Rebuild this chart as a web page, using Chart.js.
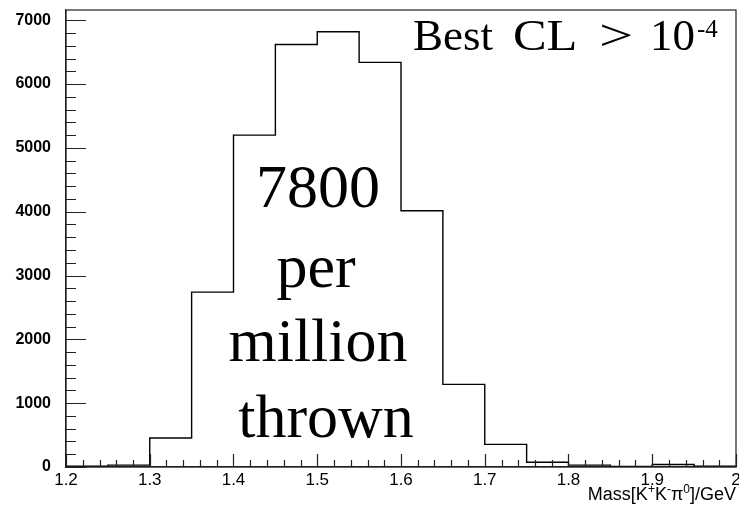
<!DOCTYPE html>
<html>
<head>
<meta charset="utf-8">
<script src="https://cdn.jsdelivr.net/npm/chart.js@4/dist/chart.umd.min.js"></script>
<style>
  html, body { margin: 0; padding: 0; background: #fff; }
  #wrap { width: 739px; height: 509px; }
</style>
</head>
<body>
<div id="wrap"><canvas id="c" width="739" height="509"></canvas></div>
<script>
// Bin lower edges of the K+K-pi0 invariant-mass histogram (GeV), width 0.05
const binEdges = [1.20, 1.25, 1.30, 1.35, 1.40, 1.45, 1.50, 1.55, 1.60, 1.65, 1.70, 1.75, 1.80, 1.85, 1.90, 1.95];
const binWidth = 0.05;
// Entries per bin
const counts = [12, 30, 455, 2740, 5200, 6620, 6820, 6340, 4015, 1295, 355, 75, 30, 10, 40, 12];
// Axis tick values
const yTickValues = [0, 1000, 2000, 3000, 4000, 5000, 6000, 7000];
const xTickValues = [1.2, 1.3, 1.4, 1.5, 1.6, 1.7, 1.8, 1.9, 2.0];
// Annotation text
const cutWords = ["Best", "CL", ">", "10"];
const cutExponent = "-4";
const yieldLines = ["7800", "per", "million", "thrown"];
// x-axis title pieces: [text, isSuperscript]
const xTitleParts = [["Mass[K", false], ["+", true], ["K", false], ["-", true], ["\u03C0", false], ["0", true], ["]/GeV", false]];

const yMax = Math.max(...counts) * 1.05;

// Step outline: one point per bin edge, the last edge repeats the last bin
const stepPoints = binEdges.map((x, i) => ({ x: x, y: counts[i] }));
stepPoints.push({ x: binEdges[binEdges.length - 1] + binWidth, y: counts[counts.length - 1] });

const SERIF = '"Liberation Serif", "Times New Roman", serif';
const SANS = '"Liberation Sans", Arial, sans-serif';

const frameAndTicks = {
  id: 'frameAndTicks',
  afterDatasetsDraw(chart) {
    const { ctx, chartArea: a, scales: { x, y } } = chart;
    ctx.save();
    ctx.strokeStyle = '#222';
    ctx.lineWidth = 1.2;
    ctx.strokeRect(a.left, a.top, a.right - a.left, a.bottom - a.top);
    ctx.beginPath();
    // y ticks: major every 1000, minor every 200
    for (let v = 0; v <= 7000 + 1e-6; v += 200) {
      const py = Math.round(y.getPixelForValue(v)) + 0.5;
      const len = (v % 1000 === 0) ? 20 : 10;
      ctx.moveTo(a.left, py);
      ctx.lineTo(a.left + len, py);
    }
    // x ticks: major every 0.1, minor every 0.02
    for (let k = 0; k <= 40; k++) {
      const v = 1.2 + k * 0.02;
      const px = Math.round(x.getPixelForValue(v)) + 0.5;
      const len = (k % 5 === 0) ? 13 : 7;
      ctx.moveTo(px, a.bottom);
      ctx.lineTo(px, a.bottom - len);
    }
    ctx.stroke();

    ctx.fillStyle = '#000';
    ctx.textBaseline = 'alphabetic';
    ctx.textAlign = 'left';

    // x-axis title, right-aligned to the frame, with superscripts
    const mainFont = '18px ' + SANS, supFont = '12px ' + SANS;
    let total = 0;
    xTitleParts.forEach(([t, sup]) => { ctx.font = sup ? supFont : mainFont; total += ctx.measureText(t).width; });
    let tx = a.right - total;
    xTitleParts.forEach(([t, sup]) => {
      ctx.font = sup ? supFont : mainFont;
      ctx.fillText(t, tx, sup ? 493 : 500);
      tx += ctx.measureText(t).width;
    });

    // selection label with exponent
    ctx.font = '45px ' + SERIF;
    const wordX = [413, 513, 599, 650];
    const wordStretch = [1, 1.12, 1.35, 1];
    cutWords.forEach((t, i) => {
      ctx.save();
      ctx.translate(wordX[i], 50);
      ctx.scale(wordStretch[i], 1);
      ctx.fillText(t, 0, 0);
      ctx.restore();
    });
    ctx.font = '25px ' + SERIF;
    ctx.fillText(cutExponent, 697, 37);

    // yield text block
    ctx.font = '62px ' + SERIF;
    ctx.textAlign = 'center';
    const centers = [318, 316, 318, 326];
    const baselines = [207, 287, 361, 437];
    yieldLines.forEach((t, i) => ctx.fillText(t, centers[i], baselines[i]));
    ctx.restore();
  }
};

new Chart(document.getElementById('c'), {
  type: 'line',
  data: {
    datasets: [{
      data: stepPoints,
      stepped: 'before',
      borderColor: '#000',
      borderWidth: 1.4,
      pointRadius: 0,
      fill: false
    }]
  },
  options: {
    responsive: false,
    animation: false,
    devicePixelRatio: 1,
    layout: { padding: { top: 10, right: 3, left: 0, bottom: 0 } },
    plugins: { legend: { display: false }, tooltip: { enabled: false } },
    scales: {
      x: {
        type: 'linear',
        min: 1.2,
        max: 2.0,
        afterBuildTicks(s) { s.ticks = xTickValues.map(v => ({ value: v })); },
        afterFit(s) { s.height = 42; s.paddingLeft = 0; s.paddingRight = 0; },
        grid: { display: true, drawOnChartArea: false, drawTicks: false, color: '#222' },
        border: { display: true, color: '#222', width: 1.2 },
        ticks: {
          padding: 3,
          color: '#000',
          maxRotation: 0,
          autoSkip: false,
          font: { family: SANS, size: 17 },
          callback: v => String(Number(v.toFixed(2)))
        }
      },
      y: {
        type: 'linear',
        min: 0,
        max: yMax,
        afterBuildTicks(s) { s.ticks = yTickValues.map(v => ({ value: v })); },
        afterFit(s) { s.width = 66; s.paddingTop = 0; s.paddingBottom = 0; },
        grid: { display: true, drawOnChartArea: false, drawTicks: false, color: '#222' },
        border: { display: true, color: '#222', width: 1.2 },
        ticks: {
          padding: 15,
          color: '#000',
          autoSkip: false,
          font: { family: SANS, size: 16, weight: 'bold' },
          callback: v => String(v)
        }
      }
    }
  },
  plugins: [frameAndTicks]
});
</script>
</body>
</html>
